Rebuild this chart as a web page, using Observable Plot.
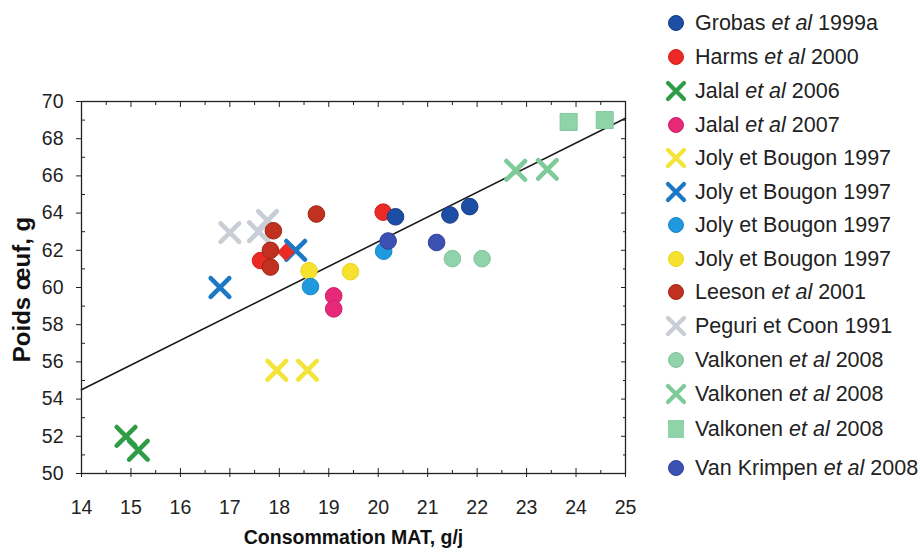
<!DOCTYPE html>
<html>
<head>
<meta charset="utf-8">
<script src="https://cdn.jsdelivr.net/npm/d3@7"></script>
<script src="https://cdn.jsdelivr.net/npm/@observablehq/plot@0.6"></script>
<style>
  html, body { margin: 0; padding: 0; background: #fff; }
  #wrap { position: relative; width: 920px; height: 556px; font-family: "Liberation Sans", Arial, sans-serif; }
  #chart { position: absolute; left: 0; top: 0; }
  #legend { position: absolute; left: 664px; top: 0; width: 256px; }
  .item { position: absolute; left: 0; height: 30px; display: flex; align-items: center; font-size: 21.5px; color: #222; white-space: nowrap; }
  .item svg { width: 24px; height: 24px; margin-right: 7px; flex: none; }
</style>
</head>
<body>
<div id="wrap">
  <div id="chart"></div>
  <div id="legend"></div>
</div>
<script>
// ---- data ----
const grobasX = [20.35, 21.45, 21.85];
const grobasY = [63.8, 63.9, 64.35];
const harmsX = [20.1, 17.62];
const harmsY = [64.05, 61.45];
const harmsDiamondX = [18.13];
const harmsDiamondY = [61.9];
const jalal06X = [14.9, 15.15];
const jalal06Y = [52.0, 51.25];
const jalal07X = [19.1, 19.1];
const jalal07Y = [59.55, 58.85];
const jolyYellowCrossX = [17.95, 18.57];
const jolyYellowCrossY = [55.55, 55.55];
const jolyBlueCrossX = [16.8, 18.33];
const jolyBlueCrossY = [60.0, 62.0];
const jolyBlueDotX = [18.63, 20.11];
const jolyBlueDotY = [60.05, 61.95];
const jolyYellowDotX = [18.6, 19.44];
const jolyYellowDotY = [60.9, 60.85];
const leesonX = [18.75, 17.82, 17.82, 17.88];
const leesonY = [63.95, 61.1, 62.0, 63.05];
const peguriX = [17.0, 17.58, 17.76];
const peguriY = [62.95, 63.0, 63.6];
const valkDotX = [21.5, 22.1];
const valkDotY = [61.55, 61.55];
const valkCrossX = [22.78, 23.42];
const valkCrossY = [66.3, 66.35];
const valkSquareX = [23.85, 24.58];
const valkSquareY = [68.9, 69.0];
const vanKrimpenX = [20.2, 21.18];
const vanKrimpenY = [62.5, 62.42];

// regression line end points
const fitX = [14, 25];
const fitY = [54.5, 69.1];

const xTicks = [14, 15, 16, 17, 18, 19, 20, 21, 22, 23, 24, 25];
const yTicks = [50, 52, 54, 56, 58, 60, 62, 64, 66, 68, 70];

const seriesNames = [
  "Grobas <i>et al</i> 1999a",
  "Harms <i>et al</i> 2000",
  "Jalal <i>et al</i> 2006",
  "Jalal <i>et al</i> 2007",
  "Joly et Bougon 1997",
  "Joly et Bougon 1997",
  "Joly et Bougon 1997",
  "Joly et Bougon 1997",
  "Leeson <i>et al</i> 2001",
  "Peguri et Coon 1991",
  "Valkonen <i>et al</i> 2008",
  "Valkonen <i>et al</i> 2008",
  "Valkonen <i>et al</i> 2008",
  "Van Krimpen <i>et al</i> 2008"
];

// ---- series table built from the arrays ----
const series = [
  {xs: grobasX, ys: grobasY, symbol: "circle", color: "#1d4ea6", edge: "#163b85"},
  {xs: harmsX, ys: harmsY, symbol: "circle", color: "#ec2a25", edge: "#d51e1a"},
  {xs: jalal06X, ys: jalal06Y, symbol: "times", color: "#2f9d48"},
  {xs: jalal07X, ys: jalal07Y, symbol: "circle", color: "#e62a78", edge: "#d01d68"},
  {xs: jolyYellowCrossX, ys: jolyYellowCrossY, symbol: "times", color: "#f3e43a"},
  {xs: jolyBlueCrossX, ys: jolyBlueCrossY, symbol: "times", color: "#1c78c4"},
  {xs: jolyBlueDotX, ys: jolyBlueDotY, symbol: "circle", color: "#1f9ade", edge: "#1a88c8"},
  {xs: jolyYellowDotX, ys: jolyYellowDotY, symbol: "circle", color: "#f6e22e", edge: "#ecd41e"},
  {xs: leesonX, ys: leesonY, symbol: "circle", color: "#c0321f", edge: "#a02414"},
  {xs: peguriX, ys: peguriY, symbol: "times", color: "#c9cdd5"},
  {xs: valkDotX, ys: valkDotY, symbol: "circle", color: "#90d2aa", edge: "#7fc69a"},
  {xs: valkCrossX, ys: valkCrossY, symbol: "times", color: "#7dcb98"},
  {xs: valkSquareX, ys: valkSquareY, symbol: "square", color: "#8fd3a9", edge: "#80c89b"},
  {xs: vanKrimpenX, ys: vanKrimpenY, symbol: "circle", color: "#3d51b3", edge: "#2f409a"}
];
series.forEach((s, i) => { s.name = seriesNames[i]; s.rows = s.xs.map((x, j) => ({x, y: s.ys[j]})); });

function dotMark(s) {
  if (s.symbol === "times") {
    return Plot.dot(s.rows, {x: "x", y: "y", symbol: "times", r: 8.5, stroke: s.color, strokeWidth: 4.6, strokeLinecap: "round", fill: "none"});
  }
  if (s.symbol === "square") {
    return Plot.dot(s.rows, {x: "x", y: "y", symbol: "square", r: 9.6, fill: s.color, stroke: s.edge, strokeWidth: 1});
  }
  return Plot.dot(s.rows, {x: "x", y: "y", symbol: "circle", r: 8.3, fill: s.color, stroke: s.edge, strokeWidth: 1});
}

// draw order: crosses behind, then dots
const order = [9, 2, 4, 5, 11, 12, 1, 8, 3, 7, 6, 13, 0, 10];
const diamondRows = harmsDiamondX.map((x, j) => ({x, y: harmsDiamondY[j]}));
const fitRows = fitX.map((x, j) => ({x, y: fitY[j]}));
const halfX = d3.range(14.5, 25, 1);
const oddY = d3.range(51, 70, 2);

const plot = Plot.plot({
  width: 640,
  height: 556,
  marginLeft: 81,
  marginRight: 15,
  marginTop: 101,
  marginBottom: 83,
  style: {fontFamily: "Liberation Sans, Arial, sans-serif", fontSize: "19px", color: "#222", background: "#fff"},
  x: {domain: [14, 25]},
  y: {domain: [50, 70]},
  marks: [
    Plot.frame({stroke: "#222", strokeWidth: 1.3}),
    // bottom axis
    Plot.axisX(xTicks, {anchor: "bottom", tickSize: 4, tickPadding: 23, fontSize: 19.5, stroke: "#222", label: null}),
    Plot.axisX(xTicks, {anchor: "bottom", tickSize: -5, text: null, stroke: "#222", label: null}),
    Plot.axisX(halfX, {anchor: "bottom", tickSize: -3, text: null, stroke: "#222", label: null}),
    // top axis
    Plot.axisX(xTicks, {anchor: "top", tickSize: -5, text: null, stroke: "#222", label: null}),
    Plot.axisX(halfX, {anchor: "top", tickSize: -3, text: null, stroke: "#222", label: null}),
    // left axis
    Plot.axisY(yTicks, {anchor: "left", tickSize: 5, tickPadding: 13, fontSize: 19.5, stroke: "#222", label: null}),
    Plot.axisY(oddY, {anchor: "left", tickSize: -4, text: null, stroke: "#222", label: null}),
    // right axis
    Plot.axisY(yTicks, {anchor: "right", tickSize: -5, text: null, stroke: "#222", label: null}),
    Plot.axisY(oddY, {anchor: "right", tickSize: -3, text: null, stroke: "#222", label: null}),
    // axis titles
    Plot.text(["Consommation MAT, g/j"], {frameAnchor: "bottom", dy: 70, fontSize: 19.5, fontWeight: "bold", fill: "#111"}),
    Plot.text(["Poids œuf, g"], {frameAnchor: "left", textAnchor: "middle", dx: -59, dy: 2, rotate: -90, fontSize: 24, fontWeight: "bold", fill: "#111"}),
    // regression line
    Plot.line(fitRows, {x: "x", y: "y", stroke: "#1a1a1a", strokeWidth: 1.6}),
    // points
    ...order.slice(0, 6).map(i => dotMark(series[i])),
    Plot.dot(diamondRows, {x: "x", y: "y", symbol: "diamond2", r: 8, fill: "#ec2a25"}),
    ...order.slice(6).map(i => dotMark(series[i]))
  ]
});
document.getElementById("chart").appendChild(plot);

// ---- legend ----
const legendTop = [8, 42, 76, 110, 143, 177, 210, 244, 277, 311, 345, 379, 414, 453];
function icon(s) {
  if (s.symbol === "times") {
    return `<svg viewBox="-12 -12 24 24"><path d="M-8,-8L8,8M8,-8L-8,8" stroke="${s.color}" stroke-width="4.2" stroke-linecap="round"/></svg>`;
  }
  if (s.symbol === "square") {
    return `<svg viewBox="-12 -12 24 24"><rect x="-8" y="-9" width="16" height="18" fill="${s.color}"/></svg>`;
  }
  return `<svg viewBox="-12 -12 24 24"><circle r="7.5" fill="${s.color}" stroke="${s.edge}"/></svg>`;
}
const legend = document.getElementById("legend");
series.forEach((s, i) => {
  const div = document.createElement("div");
  div.className = "item";
  div.style.top = legendTop[i] + "px";
  div.innerHTML = icon(s) + `<span>${s.name}</span>`;
  legend.appendChild(div);
});
</script>
</body>
</html>
